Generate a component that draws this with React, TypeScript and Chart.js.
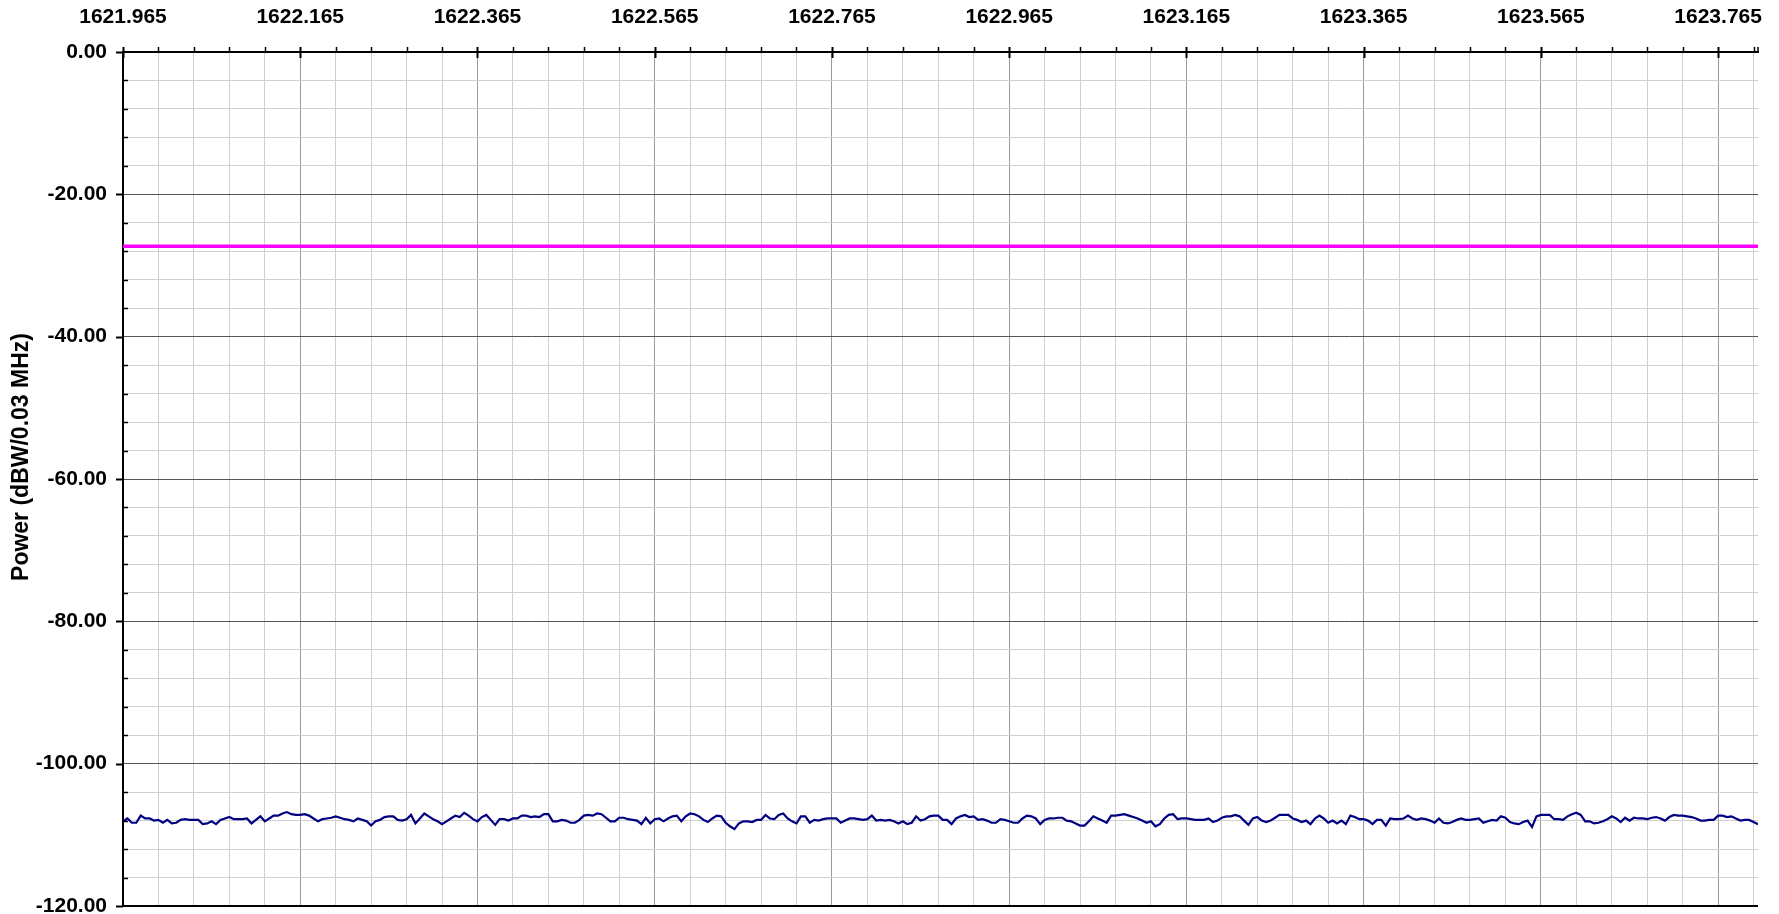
import React, { useEffect, useRef } from "react";
import { Chart, registerables } from "chart.js";

Chart.register(...registerables);

const FONT = "'Liberation Sans', Arial, Helvetica, sans-serif";

const freqMin = 1621.965;
const freqMax = 1623.81;
const freqStep = 0.005; // sweep bin spacing (MHz)
const gridStep = 0.04;
const majorEvery = 5;
const majorLabels = [
  "1621.965", "1622.165", "1622.365", "1622.565", "1622.765",
  "1622.965", "1623.165", "1623.365", "1623.565", "1623.765",
];
const yMin = -120;
const yMax = 0;
const yStep = 4;
const yMajorStep = 20;
const yTitle = "Power (dBW/0.03 MHz)";

const limitLevel = -27.3;

const noisePower = [
  -108.1, -107.7, -108.3, -108.3, -107.3, -107.7, -107.7, -108.0, -107.9, -108.3,
  -107.9, -108.4, -108.3, -107.9, -107.8, -107.9, -107.9, -107.9, -108.5, -108.4,
  -108.1, -108.5, -107.9, -107.7, -107.5, -107.8, -107.8, -107.8, -107.7, -108.4,
  -107.9, -107.4, -108.1, -107.7, -107.3, -107.3, -107.0, -106.8, -107.1, -107.2,
  -107.2, -107.1, -107.3, -107.7, -108.1, -107.8, -107.7, -107.6, -107.4, -107.6,
  -107.8, -107.9, -108.1, -107.7, -107.9, -108.1, -108.7, -108.1, -107.9, -107.5,
  -107.4, -107.4, -107.9, -108.0, -107.8, -107.2, -108.4, -107.7, -107.0, -107.4,
  -107.8, -108.1, -108.5, -108.1, -107.7, -107.3, -107.5, -106.9, -107.3, -107.8,
  -108.1, -107.5, -107.2, -107.9, -108.6, -107.8, -107.8, -108.0, -107.7, -107.7,
  -107.3, -107.3,
  -107.5, -107.4, -107.5, -107.1, -107.1, -108.1, -108.1, -107.9, -108.0, -108.3,
  -108.3, -107.9, -107.3, -107.2, -107.3, -107.0, -107.1, -107.6, -108.1, -108.1,
  -107.6, -107.6, -107.8, -107.9, -108.0, -108.5, -107.6, -108.4, -107.8, -107.7,
  -108.1, -107.7, -107.4, -107.3, -108.1, -107.4, -107.0, -107.1, -107.4, -107.9,
  -108.2, -107.7, -107.3, -107.4, -108.3, -108.8, -109.2, -108.4, -108.1, -108.1,
  -108.2, -107.9, -107.9, -107.2, -107.7, -107.8, -107.2, -107.0, -107.7, -108.1,
  -108.4, -107.4, -107.4, -108.3, -107.9, -108.0, -107.8, -107.7, -107.7, -107.7,
  -108.3, -108.0, -107.7, -107.7, -107.8, -107.9, -107.8, -107.3, -108.0, -107.9,
  -108.0, -107.9, -108.1, -108.4, -108.1, -108.5, -108.3, -107.4, -108.0, -107.8,
  -107.4, -107.3, -107.3,
  -107.9, -107.9, -108.5, -107.7, -107.4, -107.2, -107.5, -107.4, -107.9, -107.8,
  -108.0, -108.3, -108.3, -107.8, -107.9, -108.1, -108.3, -108.3, -107.7, -107.3,
  -107.4, -107.7, -108.5, -107.9, -107.7, -107.7, -107.6, -107.6, -108.0, -108.1,
  -108.4, -108.7, -108.7, -108.1, -107.4, -107.7, -108.0, -108.3, -107.3, -107.3,
  -107.2, -107.1, -107.3, -107.5, -107.7, -108.0, -108.3, -108.1, -108.8, -108.5,
  -107.7, -107.2, -107.1, -107.8, -107.7, -107.7, -107.8, -107.9, -107.9, -107.9,
  -107.7, -108.2, -108.0, -107.6, -107.4, -107.4, -107.2, -107.4, -108.0, -108.6,
  -107.7, -107.5, -108.0, -108.2, -108.0, -107.6, -107.2, -107.2, -107.2, -107.7,
  -107.9, -108.2, -108.0, -108.5, -107.7, -107.3, -107.7, -108.3, -108.0, -108.4,
  -108.0, -108.5,
  -107.3, -107.5, -107.8, -107.8, -108.0, -108.5, -107.9, -107.9, -108.7, -107.7,
  -107.8, -107.8, -107.7, -107.3, -107.7, -107.9, -107.7, -107.8, -108.0, -108.3,
  -107.7, -108.3, -108.4, -108.2, -107.9, -107.7, -107.9, -107.9, -107.8, -107.7,
  -108.3, -108.1, -107.9, -108.0, -107.4, -107.6, -108.2, -108.4, -108.5, -108.2,
  -108.0, -108.9, -107.4, -107.2, -107.2, -107.2, -107.8, -107.8, -107.9, -107.4,
  -107.1, -106.9, -107.2, -108.1, -108.1, -108.4, -108.3, -108.1, -107.8, -107.4,
  -107.7, -108.2, -107.6, -108.0, -107.6, -107.7, -107.7, -107.8, -107.6, -107.5,
  -107.7, -108.0, -107.5, -107.2, -107.3, -107.3, -107.4, -107.5, -107.7, -108.0,
  -108.0, -107.9, -107.9, -107.3, -107.3, -107.5, -107.4, -107.7, -108.0, -107.9,
  -107.9, -108.2, -108.5,
];

const xTickValues: number[] = [];
for (let k = 0; freqMin + k * gridStep <= freqMax + 1e-9; k++) {
  xTickValues.push(freqMin + k * gridStep);
}

const isXMajor = (idx: number) => idx % majorEvery === 0;
const isYMajor = (v: number) => Math.abs(v % yMajorStep) < 1e-6;

const tickMarks = {
  id: "tickMarks",
  afterDraw(chart: any) {
    const { ctx, chartArea, scales } = chart;
    const xs = scales.x;
    const ys = scales.y;
    ctx.save();
    ctx.strokeStyle = "#000";
    // x ticks (top)
    xTickValues.forEach((v, idx) => {
      const px = Math.round(xs.getPixelForValue(v)) + 0.5;
      ctx.lineWidth = isXMajor(idx) ? 2 : 1.5;
      ctx.beginPath();
      ctx.moveTo(px, chartArea.top - 5);
      ctx.lineTo(px, chartArea.top + (isXMajor(idx) ? 6 : 0));
      ctx.stroke();
    });
    ctx.lineWidth = 1.5;
    ctx.beginPath();
    ctx.moveTo(chartArea.right, chartArea.top - 5);
    ctx.lineTo(chartArea.right, chartArea.top);
    ctx.stroke();
    // y ticks (left)
    for (let v = yMin; v <= yMax; v += yStep) {
      const py = Math.round(ys.getPixelForValue(v)) + 0.5;
      ctx.beginPath();
      if (isYMajor(v)) {
        ctx.lineWidth = 2;
        ctx.moveTo(chartArea.left - 7, py);
        ctx.lineTo(chartArea.left, py);
      } else {
        ctx.lineWidth = 1.5;
        ctx.moveTo(chartArea.left, py);
        ctx.lineTo(chartArea.left + 5, py);
      }
      ctx.stroke();
    }
    // y axis title, centred on the canvas height
    ctx.fillStyle = "#000";
    ctx.font = `bold 23px ${FONT}`;
    ctx.textAlign = "center";
    ctx.textBaseline = "middle";
    ctx.translate(22, chart.height / 2);
    ctx.rotate(-Math.PI / 2);
    ctx.fillText(yTitle, 0, 0);
    ctx.restore();
  },
};

export default function App() {
  const ref = useRef<HTMLCanvasElement | null>(null);

  useEffect(() => {
    if (!ref.current) return;
    const noiseData = noisePower.map((p, i) => ({ x: freqMin + i * freqStep, y: p }));
    const limitData = [
      { x: freqMin, y: limitLevel },
      { x: freqMax, y: limitLevel },
    ];
    const chart = new Chart(ref.current, {
      type: "line",
      data: {
        datasets: [
          {
            data: limitData,
            borderColor: "#ff00ff",
            borderWidth: 3.5,
            pointRadius: 0,
            tension: 0,
          },
          {
            data: noiseData,
            borderColor: "#000080",
            borderWidth: 2.2,
            pointRadius: 0,
            tension: 0,
          },
        ],
      },
      options: {
        animation: false,
        responsive: false,
        events: [],
        layout: { padding: { left: 0, top: 0, right: 21, bottom: 8 } },
        plugins: { legend: { display: false }, tooltip: { enabled: false }, title: { display: false } },
        scales: {
          x: {
            type: "linear",
            position: "top",
            min: freqMin,
            max: freqMax,
            afterBuildTicks: (scale: any) => {
              scale.ticks = xTickValues.map((v) => ({ value: v }));
            },
            afterFit: (scale: any) => {
              scale.height = 52;
              scale.paddingLeft = 0;
              scale.paddingRight = 0;
            },
            ticks: {
              autoSkip: false,
              maxRotation: 0,
              padding: 22,
              color: "#000",
              font: { family: FONT, size: 21, weight: "bold" },
              callback: (_v: any, idx: number) => (isXMajor(idx) ? majorLabels[idx / majorEvery] ?? "" : ""),
            },
            grid: {
              drawTicks: false,
              color: (c: any) => (c.index % majorEvery === 0 ? "#9a9a9a" : "#cfcfcf"),
              lineWidth: 1,
            },
            border: { display: true, color: "#000", width: 2 },
          },
          y: {
            type: "linear",
            min: yMin,
            max: yMax,
            afterFit: (scale: any) => {
              scale.width = 123;
              scale.paddingTop = 0;
              scale.paddingBottom = 0;
            },
            ticks: {
              stepSize: yStep,
              autoSkip: false,
              padding: 16,
              color: "#000",
              font: { family: FONT, size: 21, weight: "bold" },
              callback: (v: any) => (isYMajor(Number(v)) ? Number(v).toFixed(2) : ""),
            },
            grid: {
              drawTicks: false,
              color: (c: any) => {
                const v = c.tick ? c.tick.value : 0;
                if (v === yMin) return "#000";
                return isYMajor(v) ? "#555" : "#cfcfcf";
              },
              lineWidth: (c: any) => (c.tick && c.tick.value === yMin ? 2 : 1),
            },
            border: { display: true, color: "#000", width: 2 },
          },
        },
      },
      plugins: [tickMarks],
    });
    return () => chart.destroy();
  }, []);

  return (
    <div style={{ position: "absolute", left: 0, top: 0, width: 1779, height: 914, background: "#fff" }}>
      <canvas ref={ref} width={1779} height={914} style={{ display: "block", width: 1779, height: 914 }} />
    </div>
  );
}
